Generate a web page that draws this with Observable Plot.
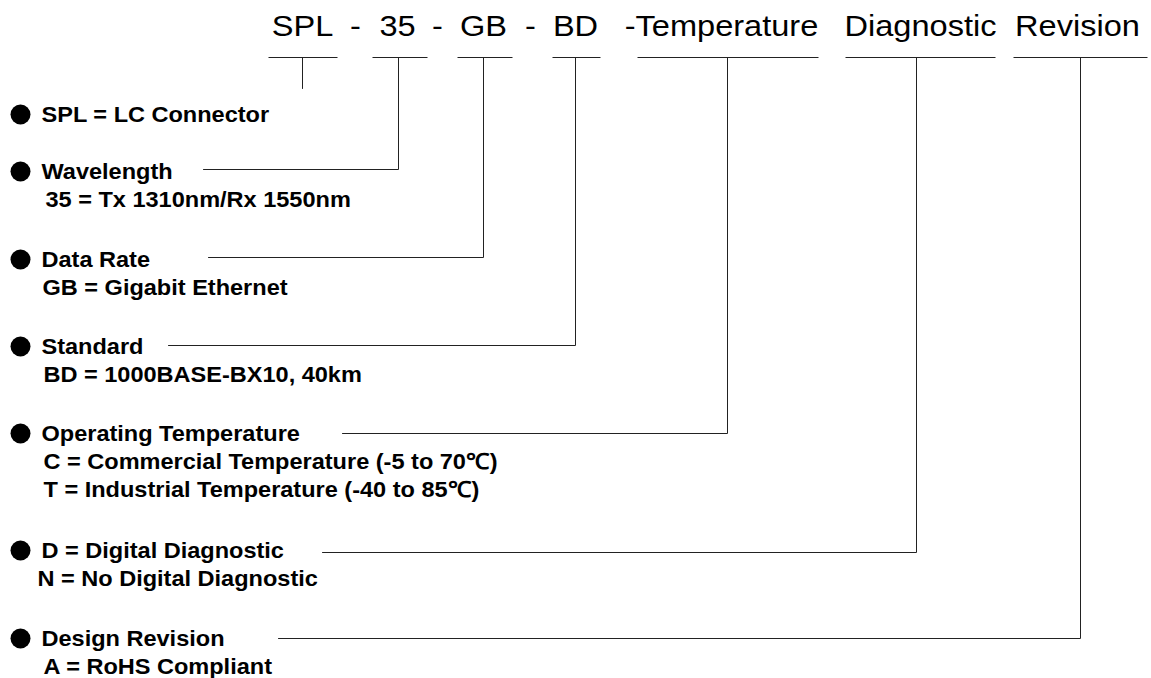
<!DOCTYPE html>
<html><head><meta charset="utf-8">
<script src="https://cdn.jsdelivr.net/npm/d3@7"></script>
<script src="https://cdn.jsdelivr.net/npm/@observablehq/plot@0.6"></script>
<style>body{margin:0;background:#fff} #chart svg{display:block}</style>
</head><body><div id="chart"></div>
<script>
// ---------- data ----------
const codes = ["SPL", "35", "GB", "BD", "Temperature", "Diagnostic", "Revision"];
const headerTokens = ["SPL", "-", "35", "-", "GB", "-", "BD", "-Temperature", "Diagnostic", "Revision"];
const titles = ["SPL = LC Connector", "Wavelength", "Data Rate", "Standard", "Operating Temperature", "D = Digital Diagnostic", "Design Revision"];
const details = [
  [],
  ["35 = Tx 1310nm/Rx 1550nm"],
  ["GB = Gigabit Ethernet"],
  ["BD = 1000BASE-BX10, 40km"],
  ["C = Commercial Temperature (-5 to 70\u2103)", "T = Industrial Temperature (-40 to 85\u2103)"],
  ["N = No Digital Diagnostic"],
  ["A = RoHS Compliant"]
];

// ---------- layout (pixel space) ----------
const W = 1151, H = 678;
const FONT = "Arial, 'Liberation Sans', Helvetica, sans-serif";
const headerBaseline = 35;
const tokenX = [302, 355, 397, 437, 483, 530, 575, 721, 920, 1077];
const segX1 = [268, 372, 457, 552, 637, 845, 1013];
const segX2 = [337, 427, 512, 600, 818, 995, 1147];
const segY = 57;
const colX = [302, 398, 483, 575, 727, 916, 1080];
const titleY = [121, 178, 266, 353, 440, 557, 645];
const connectY = [88, 169, 257, 345, 433, 552, 638];
const connectX0 = [null, 203, 208, 168, 342, 322, 278];
const detailX = [null, 45, 42, 43, 43, 37, 43];
const titleX = 41, bulletX = 20, lineGap = 28;

// ---------- derived tables ----------
const header = headerTokens.map((t, i) => ({text: t, x: tokenX[i], y: headerBaseline}));
const segments = codes.map((c, i) => ({code: c, x1: segX1[i], x2: segX2[i], y: segY}));
const connectors = codes.flatMap((c, i) => i === 0
  ? [{code: c, x: colX[i], y: segY}, {code: c, x: colX[i], y: connectY[i]}]
  : [{code: c, x: colX[i], y: segY}, {code: c, x: colX[i], y: connectY[i]}, {code: c, x: connectX0[i], y: connectY[i]}]);
const titleRows = titles.map((t, i) => ({text: t, x: titleX, y: titleY[i]}));
const bullets = titles.map((t, i) => ({x: bulletX, y: titleY[i] - 7}));
const detailRows = details.flatMap((lines, i) => lines.map((t, j) => ({text: t, x: detailX[i], y: titleY[i] + (j + 1) * lineGap})));

const chart = Plot.plot({
  width: W, height: H, margin: 0,
  x: {domain: [0, W], range: [0, W], axis: null},
  y: {domain: [0, H], range: [0, H], axis: null},
  style: {background: "#fff", fontFamily: FONT},
  marks: [
    Plot.link(segments, {x1: "x1", x2: "x2", y1: "y", y2: "y", stroke: "#222", strokeWidth: 1}),
    Plot.line(connectors, {x: "x", y: "y", z: "code", stroke: "#222", strokeWidth: 1}),
    Plot.dot(bullets, {x: "x", y: "y", r: 10, fill: "#000", stroke: null}),
    Plot.text(header, {x: "x", y: "y", text: "text", fontSize: 30, lineAnchor: "bottom", fill: "#000", fontFamily: FONT, className: "hdr"}),
    Plot.text(titleRows, {x: "x", y: "y", text: "text", textAnchor: "start", lineAnchor: "bottom", fontSize: 22, fontWeight: "bold", fill: "#000", fontFamily: FONT, className: "lbl"}),
    Plot.text(detailRows, {x: "x", y: "y", text: "text", textAnchor: "start", lineAnchor: "bottom", fontSize: 22, fontWeight: "bold", fill: "#000", fontFamily: FONT, className: "lbl"})
  ]
});
// the reference lettering is slightly wider than the font's natural width
chart.querySelectorAll("g.hdr text").forEach(t => t.setAttribute("transform", (t.getAttribute("transform") || "") + " scale(1.085,1)"));
chart.querySelectorAll("g.lbl text").forEach(t => t.setAttribute("transform", (t.getAttribute("transform") || "") + " scale(1.07,1)"));
document.getElementById("chart").appendChild(chart);
</script>
</body></html>
